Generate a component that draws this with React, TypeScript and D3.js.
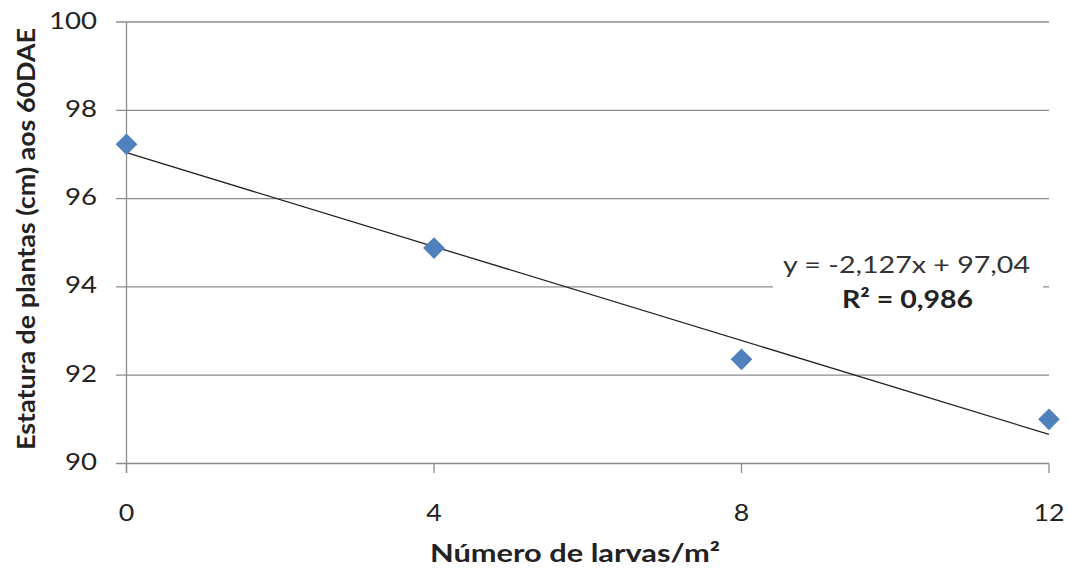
import React from 'react';
import * as d3 from 'd3';

const larvae = [0, 4, 8, 12];
const heights = [97.23, 94.88, 92.36, 91.0];
const yTicks = [90, 92, 94, 96, 98, 100];
const xTicks = [0, 4, 8, 12];
// Excel trendline was fitted on the point index (0..3), not on the x values
const trendSlope = -2.127;
const trendIntercept = 97.04;

const width = 1069;
const height = 572;
const font = 'Lato, "Open Sans", sans-serif';

const App = () => {
  const x = d3.scaleLinear().domain([0, 12]).range([126.5, 1049]);
  const y = d3.scaleLinear().domain([90, 100]).range([463.5, 22]);

  const trend = [0, larvae.length - 1].map(i => ({
    x: larvae[i],
    y: trendIntercept + trendSlope * i,
  }));
  const line = d3.line<{ x: number; y: number }>()
    .x(d => x(d.x))
    .y(d => y(d.y));

  const diamond = d3.symbol().type(d3.symbolDiamond2).size(300)();
  const grid = '#8c8c8c';
  const stretch = { lengthAdjust: 'spacingAndGlyphs' as const };

  return (
    <svg width={width} height={height} style={{ position: 'absolute', left: 0, top: 0 }}>
      <rect width={width} height={height} fill="#fff" />
      {yTicks.map(t => (
        <g key={t}>
          <line x1={116} x2={1049} y1={y(t)} y2={y(t)} stroke={grid} strokeWidth={1.3} />
          <text
            x={97}
            y={y(t) + 6.5}
            textAnchor="end"
            fontFamily={font}
            fontSize={24}
            fill="#222"
            textLength={String(t).length * 16}
            {...stretch}
          >
            {t}
          </text>
        </g>
      ))}
      <line x1={x(0)} x2={x(0)} y1={y(100)} y2={473} stroke={grid} strokeWidth={1.3} />
      {xTicks.map(t => (
        <g key={t}>
          <line x1={x(t)} x2={x(t)} y1={y(90)} y2={473} stroke={grid} strokeWidth={1.3} />
          <text
            x={x(t)}
            y={521}
            textAnchor="middle"
            fontFamily={font}
            fontSize={24}
            fill="#222"
            textLength={String(t).length * 15.5}
            {...stretch}
          >
            {t}
          </text>
        </g>
      ))}
      <path d={line(trend) || ''} fill="none" stroke="#222" strokeWidth={1.3} />
      {larvae.map((l, i) => (
        <path
          key={l}
          d={diamond || ''}
          transform={`translate(${x(l)},${y(heights[i])})`}
          fill="#4F81BD"
        />
      ))}
      <rect x={773} y={248} width={270} height={72} fill="#fff" />
      <text x={906.5} y={273} textAnchor="middle" fontFamily={font} fontSize={24} fill="#333" textLength={247} {...stretch}>
        y = -2,127x + 97,04
      </text>
      <text x={907.5} y={308} textAnchor="middle" fontFamily={font} fontSize={24} fontWeight="bold" fill="#222" textLength={131} {...stretch}>
        R² = 0,986
      </text>
      <text
        transform={`translate(35,${239}) rotate(-90)`}
        textAnchor="middle"
        fontFamily={font}
        fontSize={25}
        fontWeight="bold"
        fill="#222"
        textLength={422}
        {...stretch}
      >
        Estatura de plantas (cm) aos 60DAE
      </text>
      <text x={575} y={562} textAnchor="middle" fontFamily={font} fontSize={25} fontWeight="bold" fill="#222" textLength={290} {...stretch}>
        Número de larvas/m²
      </text>
    </svg>
  );
};

export default App;
